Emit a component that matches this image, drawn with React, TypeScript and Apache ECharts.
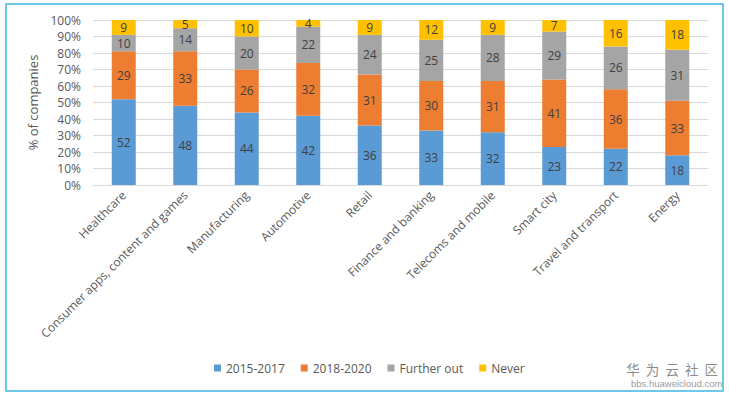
import React, { useEffect, useRef } from "react";
import * as echarts from "echarts";

const categories = [
  "Healthcare",
  "Consumer apps, content and games",
  "Manufacturing",
  "Automotive",
  "Retail",
  "Finance and banking",
  "Telecoms and mobile",
  "Smart city",
  "Travel and transport",
  "Energy",
];
const s2015 = [52, 48, 44, 42, 36, 33, 32, 23, 22, 18];
const s2018 = [29, 33, 26, 32, 31, 30, 31, 41, 36, 33];
const sFurther = [10, 14, 20, 22, 24, 25, 28, 29, 26, 31];
const sNever = [9, 5, 10, 4, 9, 12, 9, 7, 16, 18];
const seriesNames = ["2015-2017", "2018-2020", "Further out", "Never"];
const yTicks = [0, 10, 20, 30, 40, 50, 60, 70, 80, 90, 100];

const FONT = "'Open Sans', 'Liberation Sans', sans-serif";

export default function App() {
  const ref = useRef<HTMLDivElement>(null);
  useEffect(() => {
    if (!ref.current) return;
    const chart = echarts.init(ref.current, undefined, { renderer: "svg" });
    const colors = ["#5b9bd5", "#ed7d31", "#a5a5a5", "#ffc000"];
    const data = [s2015, s2018, sFurther, sNever];
    chart.setOption({
      animation: false,
      backgroundColor: "#ffffff",
      textStyle: { fontFamily: FONT },
      grid: { left: 93, right: 21, top: 20, bottom: 212, containLabel: false },
      legend: {
        data: seriesNames,
        bottom: 18,
        left: 209,
        icon: "rect",
        itemWidth: 7,
        itemHeight: 7,
        itemGap: 16,
        textStyle: { color: "#595959", fontSize: 12, fontFamily: FONT },
      },
      xAxis: {
        type: "category",
        data: categories,
        axisLine: { lineStyle: { color: "#d9d9d9" } },
        axisTick: { show: false },
        axisLabel: {
          rotate: 45,
          interval: 0,
          color: "#595959",
          fontSize: 12,
          fontFamily: FONT,
          margin: 8,
        },
      },
      yAxis: {
        type: "value",
        min: 0,
        max: 100,
        interval: 10,
        name: "% of companies",
        nameLocation: "middle",
        nameGap: 50,
        nameRotate: 90,
        nameTextStyle: { color: "#595959", fontSize: 13, fontFamily: FONT },
        axisLine: { show: false },
        axisTick: { show: false },
        splitLine: { lineStyle: { color: "#d9d9d9" } },
        axisLabel: {
          color: "#595959",
          fontSize: 12,
          fontFamily: FONT,
          margin: 12,
          formatter: (v: number) => (yTicks.includes(v) ? v + "%" : ""),
        },
      },
      series: data.map((d, i) => ({
        name: seriesNames[i],
        type: "bar",
        stack: "total",
        barWidth: 24,
        data: d,
        itemStyle: { color: colors[i] },
        label: {
          show: true,
          position: "inside",
          color: "#404040",
          fontSize: 12,
          fontFamily: FONT,
        },
      })),
      graphic: [
        {
          type: "rect",
          shape: { x: 6, y: 4, width: 717, height: 387 },
          style: { fill: "none", stroke: "#3fb6e0", lineWidth: 1.5 },
          z: 100,
        },
        {
          type: "text",
          right: 11,
          top: 362,
          style: {
            text: "华  为  云  社  区",
            fill: "#8c8c8c",
            font: "13.5px 'Noto Sans CJK SC', sans-serif",
          },
        },
        {
          type: "text",
          left: 631,
          top: 378,
          style: {
            text: "bbs.huaweicloud.com",
            fill: "#9a9a9a",
            font: "9.5px 'Liberation Sans', sans-serif",
          },
        },
      ],
    });
    return () => chart.dispose();
  }, []);
  return (
    <div
      ref={ref}
      style={{ position: "fixed", left: 0, top: 0, width: 729, height: 397 }}
    />
  );
}
